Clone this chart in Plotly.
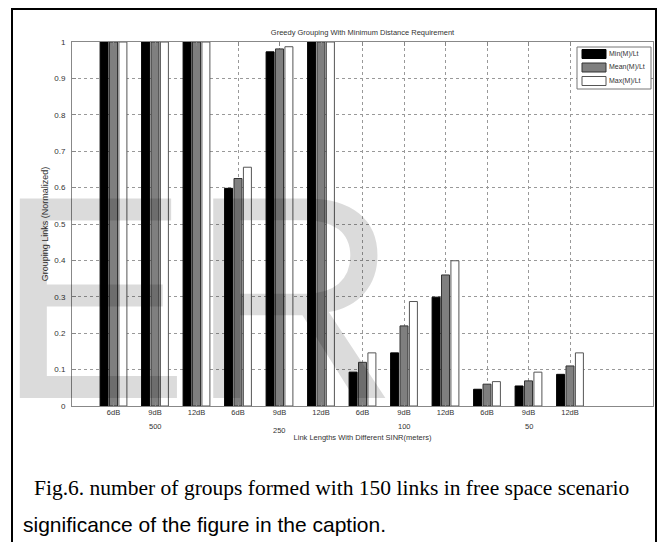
import plotly.graph_objects as go

# ---------------- data ----------------
link_lengths = ["500", "250", "100", "50"]
snr_levels = ["6dB", "9dB", "12dB"]
series_names = ["Min(M)/Lt", "Mean(M)/Lt", "Max(M)/Lt"]

min_vals = [1.0, 1.0, 1.0, 0.598, 0.973, 1.0, 0.093, 0.146, 0.299, 0.046, 0.055, 0.087]
mean_vals = [1.0, 1.0, 1.0, 0.625, 0.981, 1.0, 0.120, 0.220, 0.360, 0.060, 0.069, 0.110]
max_vals = [1.0, 1.0, 1.0, 0.656, 0.987, 1.0, 0.146, 0.287, 0.399, 0.067, 0.093, 0.146]

y_ticks = [0, 0.1, 0.2, 0.3, 0.4, 0.5, 0.6, 0.7, 0.8, 0.9, 1]
y_ticktext = ["0", "0.1", "0.2", "0.3", "0.4", "0.5", "0.6", "0.7", "0.8", "0.9", "1"]

title_text = "Greedy Grouping With Minimum Distance Requirement"
x_title = "Link Lengths With Different SINR(meters)"
y_title = "Grouping Links (Normalized)"
caption1 = "Fig.6. number of groups formed with 150 links in free space scenario"
caption2 = "significance of the figure in the caption."

# ---------------- layout geometry (window pixel coords) ----------------
OFF = 8                      # default page margin of the html body
WIN_W, WIN_H = 665, 542
W, H = WIN_W - OFF, WIN_H - OFF
PL, PR, PT, PB = 72, 653, 42, 406     # plot area in window pixels
L, R, T, B = PL - OFF, WIN_W - PR, PT - OFF, WIN_H - PB
PW, PH = PR - PL, PB - PT


def px(xp):
    return (xp - PL) / PW


def py(yp):
    return (PB - yp) / PH


categories = [s for _ in link_lengths for s in snr_levels]
xpos = list(range(1, len(categories) + 1))

colors = ["#000000", "#7f7f7f", "#ffffff"]
edges = ["#000000", "#333333", "#555555"]

fig = go.Figure()
for name, vals, c, e in zip(series_names, [min_vals, mean_vals, max_vals], colors, edges):
    fig.add_trace(go.Bar(
        x=xpos, y=vals, name=name,
        marker=dict(color=c, line=dict(color=e, width=1)),
        showlegend=False,
    ))

font_main = "Liberation Sans, Arial, sans-serif"
txt = "#333"

annotations = []
shapes = []

# group (link length) labels under the middle tick of each group
group_y = [426, 430.5, 426, 426]
for i, (lab, gy) in enumerate(zip(link_lengths, group_y)):
    xi = xpos[i * len(snr_levels) + 1]
    annotations.append(dict(x=xi, xref="x", y=py(gy), yref="paper", text=lab,
                            showarrow=False, xanchor="center", yanchor="middle",
                            font=dict(family=font_main, size=7.5, color=txt)))

# manual legend (MATLAB style)
shapes.append(dict(type="rect", xref="paper", yref="paper",
                   x0=px(577), x1=px(651), y0=py(47), y1=py(89),
                   line=dict(color="#777", width=1), fillcolor="white", layer="above"))
row_y = [54, 67.5, 81]
for name, c, e, ry in zip(series_names, colors, edges, row_y):
    shapes.append(dict(type="rect", xref="paper", yref="paper",
                       x0=px(582), x1=px(606), y0=py(ry - 4.5), y1=py(ry + 4.5),
                       line=dict(color=e, width=1), fillcolor=c, layer="above"))
    annotations.append(dict(x=px(607), xref="paper", y=py(ry), yref="paper", text=name,
                            showarrow=False, xanchor="left", yanchor="middle",
                            font=dict(family=font_main, size=7, color=txt)))

# captions
annotations.append(dict(x=px(32), xref="paper", y=py(488), yref="paper", text=caption1,
                        showarrow=False, xanchor="left", yanchor="middle",
                        font=dict(family="Liberation Serif, Times New Roman, serif", size=21.5, color="#000")))
annotations.append(dict(x=px(21), xref="paper", y=py(524), yref="paper", text=caption2,
                        showarrow=False, xanchor="left", yanchor="middle",
                        font=dict(family=font_main, size=21, color="#000")))

# watermark (multiply-like overlay)
annotations.append(dict(x=px(-6), xref="paper", y=py(297), yref="paper", text="ER",
                        showarrow=False, xanchor="left", yanchor="middle",
                        font=dict(family=font_main, size=290, color="rgba(0,0,0,0.14)")))

# outer page frame
shapes.append(dict(type="rect", xref="paper", yref="paper",
                   x0=px(12), x1=px(656), y0=py(570), y1=py(9),
                   line=dict(color="#000", width=2), fillcolor="rgba(0,0,0,0)", layer="above"))

fig.update_layout(
    width=W, height=H,
    margin=dict(l=L, r=R, t=T, b=B, pad=0),
    paper_bgcolor="white", plot_bgcolor="white",
    barmode="group", bargap=0.32, bargroupgap=0.15,
    title=dict(text=title_text, x=(362.5 - OFF) / W, xanchor="center",
               y=1 - (32 - OFF) / H, yanchor="middle",
               font=dict(family=font_main, size=7.5, color=txt)),
    font=dict(family=font_main, size=7, color=txt),
    annotations=annotations,
    shapes=shapes,
)

fig.update_xaxes(
    range=[0, 14], tickmode="array", tickvals=xpos, ticktext=categories,
    showgrid=True, gridcolor="#999", griddash="dot", gridwidth=1,
    showline=True, linecolor="#888", linewidth=1, mirror="ticks",
    ticks="inside", ticklen=4, tickcolor="#888", zeroline=False,
    ticklabelstandoff=-1,
    tickfont=dict(family=font_main, size=7.5, color=txt),
    title=dict(text=x_title, standoff=18, font=dict(family=font_main, size=7.5, color=txt)),
)
fig.update_yaxes(
    range=[0, 1], tickmode="array", tickvals=y_ticks, ticktext=y_ticktext,
    showgrid=True, gridcolor="#999", griddash="dot", gridwidth=1,
    showline=True, linecolor="#888", linewidth=1, mirror="ticks",
    ticks="inside", ticklen=4, tickcolor="#888", zeroline=False,
    ticklabelstandoff=4,
    tickfont=dict(family=font_main, size=8, color=txt),
    title=dict(text=y_title, standoff=4, font=dict(family=font_main, size=9, color=txt)),
)

fig.write_html("out.html")
